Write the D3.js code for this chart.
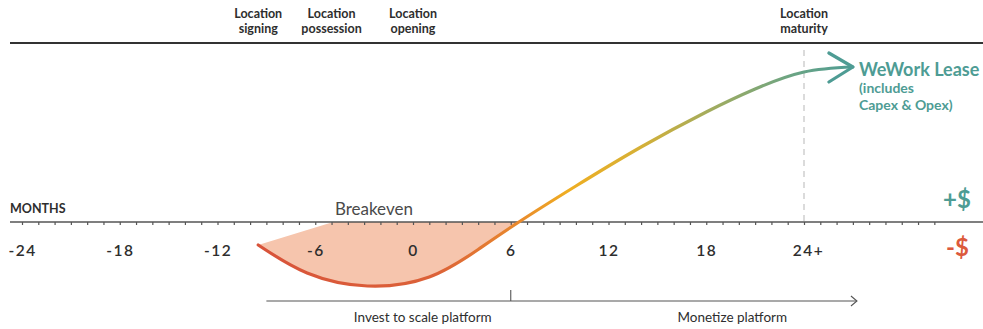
<!DOCTYPE html>
<html>
<head>
<meta charset="utf-8">
<script src="https://cdn.jsdelivr.net/npm/d3@7"></script>
<style>
  html, body { margin: 0; padding: 0; background: #fff; }
  svg { display: block; font-family: Lato, "Open Sans", sans-serif; }
</style>
</head>
<body>
<svg id="chart" width="983" height="329"></svg>
<script>
// Cash profile of a single location over time (months relative to opening)
const curveMonths = [-9.5, -6.5, -2.8, 1, 4, 6.5, 10, 14, 18, 21, 24, 27];
const curveValues = [-0.46, -1.02, -1.28, -1.1, -0.55, 0, 0.72, 1.5, 2.2, 2.66, 3.0, 3.1];

// Where the investment shading leaves the axis before breakeven
const shadeTopMonth = -4.9;

// Axis ticks
const minorTicks = d3.range(-24, 33, 1);
const majorTicks = [-24, -18, -12, -6, 0, 6, 12, 18, 24];
const tickLabels = ["-24", "-18", "-12", "-6", "0", "6", "12", "18", "24+"];

// Milestones along the top
const milestoneMonths = [-9.5, -5, 0, 24];
const milestoneLabels = [["Location", "signing"], ["Location", "possession"], ["Location", "opening"], ["Location", "maturity"]];

// Phases along the bottom
const phaseBreaks = [-9, 6, 27.25];
const phaseLabelMonths = [0.6, 19.6];
const phaseLabels = ["Invest to scale platform", "Monetize platform"];

const maturityMonth = 24;

const svg = d3.select("#chart");
const x = d3.scaleLinear().domain([-24, 24]).range([22, 804]);
const y = d3.scaleLinear().domain([-1, 3]).range([272, 72]);
const y0 = y(0);

const textColor = "#2e2e2e";
const teal = "#4e9c94";
const red = "#dc5a3c";

// Gradient for the cash curve, running left to right
const defs = svg.append("defs");
const grad = defs.append("linearGradient")
  .attr("id", "cashGrad")
  .attr("gradientUnits", "userSpaceOnUse")
  .attr("x1", x(curveMonths[0])).attr("x2", x(curveMonths[curveMonths.length - 1]))
  .attr("y1", 0).attr("y2", 0);
[[0, "#d8533a"], [0.3, "#dc6238"], [0.44, "#e98a2c"], [0.52, "#efae22"], [0.64, "#d6b036"],
 [0.78, "#9aab64"], [0.9, "#6aa484"], [1, teal]].forEach(([o, c]) =>
  grad.append("stop").attr("offset", o).attr("stop-color", c));

// Clip for the shading: only the part below the axis
defs.append("clipPath").attr("id", "belowAxis")
  .append("rect").attr("x", 0).attr("y", y0).attr("width", 983).attr("height", 329 - y0);

// Top rule
svg.append("line")
  .attr("x1", 10).attr("x2", 983).attr("y1", 43).attr("y2", 43)
  .attr("stroke", "#333").attr("stroke-width", 2);

// Milestone labels
milestoneMonths.forEach((m, i) => {
  const t = svg.append("text")
    .attr("x", x(m)).attr("y", 18)
    .attr("text-anchor", "middle")
    .attr("font-size", 12.5).attr("font-weight", 700)
    .attr("fill", textColor);
  milestoneLabels[i].forEach((line, j) =>
    t.append("tspan").attr("x", x(m)).attr("dy", j === 0 ? 0 : 15).text(line));
});

// Maturity marker
svg.append("line")
  .attr("x1", x(maturityMonth)).attr("x2", x(maturityMonth))
  .attr("y1", 50).attr("y2", y0)
  .attr("stroke", "#c8c8c8").attr("stroke-width", 1.3)
  .attr("stroke-dasharray", "6,5");

// Shaded investment area between the curve and the axis
const pts = curveMonths.map((m, i) => [x(m), y(curveValues[i])]);
const lineGen = d3.line().curve(d3.curveNatural);
const curvePath = lineGen(pts);
svg.append("path")
  .attr("d", curvePath + `L${x(curveMonths[curveMonths.length - 1])},${y0}L${x(shadeTopMonth)},${y0}Z`)
  .attr("clip-path", "url(#belowAxis)")
  .attr("fill", "#f6c5ad");

// Month axis
const axisG = svg.append("g").attr("transform", `translate(0,${y0})`);
axisG.call(d3.axisBottom(x).tickValues(minorTicks).tickSize(3).tickFormat(""));
axisG.select(".domain").attr("d", `M10,0H983`).attr("stroke", "#555").attr("stroke-width", 1.5);
axisG.selectAll(".tick line").attr("stroke", "#555").attr("stroke-width", 1.2);

const labelG = svg.append("g").attr("transform", `translate(0,${y0})`);
labelG.call(d3.axisBottom(x).tickValues(majorTicks).tickSize(0)
  .tickFormat((d, i) => tickLabels[i]));
labelG.select(".domain").remove();
labelG.selectAll(".tick text")
  .attr("y", 23)
  .attr("dx", (d, i) => tickLabels[i].endsWith("+") ? 4 : 0)
  .attr("font-family", "Lato, sans-serif")
  .attr("font-size", 15.5).attr("font-weight", 600)
  .attr("letter-spacing", 1.5)
  .attr("fill", textColor);

svg.append("text").attr("x", 10).attr("y", 213)
  .attr("font-size", 12.5).attr("font-weight", 700).attr("fill", textColor)
  .text("MONTHS");

svg.append("text").attr("x", x(-2.4)).attr("y", 215)
  .attr("text-anchor", "middle")
  .attr("font-size", 17).attr("fill", "#4a4a4a")
  .text("Breakeven");

// Cash curve
svg.append("path")
  .attr("d", curvePath)
  .attr("fill", "none")
  .attr("stroke", "url(#cashGrad)")
  .attr("stroke-width", 3.2)
  .attr("stroke-linecap", "round");

// Open arrowhead at the end of the curve
const tip = pts[pts.length - 1];
svg.append("path")
  .attr("d", `M${tip[0] - 24},${tip[1] - 14}L${tip[0]},${tip[1]}L${tip[0] - 24},${tip[1] + 15}`)
  .attr("fill", "none").attr("stroke", teal)
  .attr("stroke-width", 3.2).attr("stroke-linecap", "round").attr("stroke-linejoin", "round");

// Series label
const lease = svg.append("text").attr("x", 859).attr("y", 76).attr("fill", teal);
lease.append("tspan").attr("font-size", 18).attr("font-weight", 700).text("WeWork Lease");
lease.append("tspan").attr("x", 859).attr("dy", 17).attr("font-size", 14).attr("font-weight", 700).text("(includes");
lease.append("tspan").attr("x", 859).attr("dy", 17).attr("font-size", 14).attr("font-weight", 700).text("Capex & Opex)");

// Sign markers
svg.append("text").attr("x", 943).attr("y", 208)
  .attr("font-size", 24).attr("font-weight", 700).attr("fill", teal).text("+$");
svg.append("text").attr("x", 946).attr("y", 256)
  .attr("font-size", 24).attr("font-weight", 700).attr("fill", red).text("-$");

// Phase arrow
const phaseY = 301;
svg.append("line")
  .attr("x1", x(phaseBreaks[0])).attr("x2", x(phaseBreaks[2]))
  .attr("y1", phaseY).attr("y2", phaseY)
  .attr("stroke", "#555").attr("stroke-width", 1.1);
svg.append("line")
  .attr("x1", x(phaseBreaks[1])).attr("x2", x(phaseBreaks[1]))
  .attr("y1", phaseY - 11).attr("y2", phaseY)
  .attr("stroke", "#555").attr("stroke-width", 1.1);
const aEnd = x(phaseBreaks[2]);
svg.append("path")
  .attr("d", `M${aEnd - 6},${phaseY - 5}L${aEnd},${phaseY}L${aEnd - 6},${phaseY + 5}`)
  .attr("fill", "none").attr("stroke", "#555").attr("stroke-width", 1.1);

phaseLabelMonths.forEach((m, i) => {
  svg.append("text").attr("x", x(m)).attr("y", 322)
    .attr("text-anchor", "middle")
    .attr("font-size", 13.5).attr("fill", textColor)
    .text(phaseLabels[i]);
});
</script>
</body>
</html>
